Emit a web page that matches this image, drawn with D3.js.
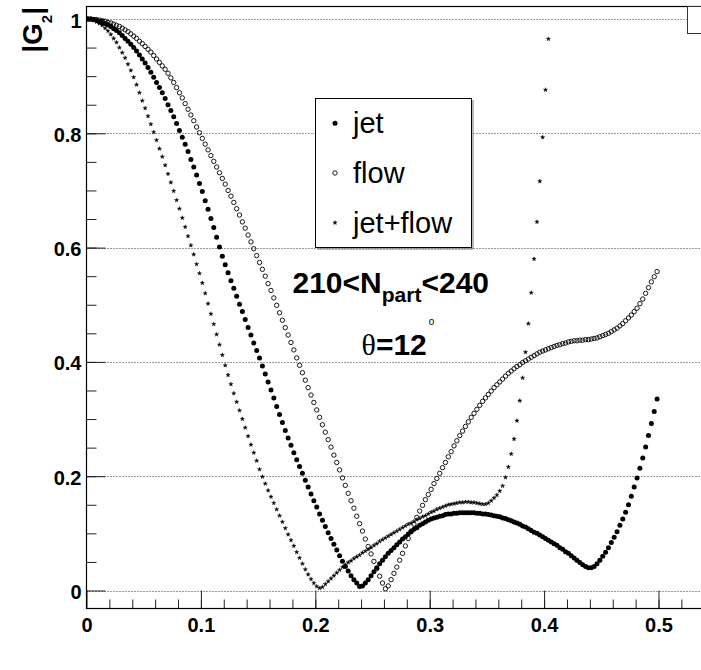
<!DOCTYPE html>
<html lang="en">
  <head>
    <meta charset="UTF-8" />
    <title>|G2| jet / flow</title>
    <style>
      body { margin: 0; background: #fff; }
      svg { display: block; }
      text { font-family: "Liberation Sans", Arial, Helvetica, sans-serif; }
    </style>
  </head>

  <body>
    <svg width="701" height="670"></svg>

    <script src="https://d3js.org/d3.v7.min.js"></script>
    <script>
      (function () {
        "use strict";

        // histograms: 200 bins over [0, 0.5], one value per bin
        var N_BINS = 200;
        var X_MIN = 0;
        var X_MAX = 0.5;

        var jet = [
          1.000, 1.000, 0.999, 0.998, 0.996, 0.994, 0.992, 0.990, 0.987, 0.983,
          0.980, 0.976, 0.971, 0.966, 0.961, 0.956, 0.950, 0.944, 0.937, 0.930,
          0.923, 0.915, 0.907, 0.898, 0.889, 0.880, 0.871, 0.861, 0.850, 0.840,
          0.829, 0.817, 0.805, 0.793, 0.781, 0.768, 0.754, 0.741, 0.727, 0.712,
          0.698, 0.682, 0.667, 0.651, 0.635, 0.618, 0.601, 0.585, 0.570, 0.556,
          0.542, 0.529, 0.515, 0.501, 0.488, 0.474, 0.460, 0.447, 0.433, 0.420,
          0.407, 0.393, 0.379, 0.365, 0.351, 0.337, 0.322, 0.308, 0.294, 0.280,
          0.267, 0.254, 0.241, 0.229, 0.217, 0.205, 0.193, 0.181, 0.169, 0.157,
          0.146, 0.134, 0.123, 0.112, 0.101, 0.091, 0.081, 0.071, 0.061, 0.051,
          0.042, 0.034, 0.026, 0.019, 0.013, 0.007, 0.008, 0.013, 0.019, 0.026,
          0.033, 0.040, 0.047, 0.053, 0.059, 0.065, 0.070, 0.075, 0.080, 0.085,
          0.090, 0.094, 0.099, 0.103, 0.107, 0.110, 0.114, 0.117, 0.120, 0.123,
          0.125, 0.127, 0.128, 0.130, 0.131, 0.133, 0.134, 0.134, 0.135, 0.135,
          0.136, 0.136, 0.136, 0.136, 0.136, 0.136, 0.135, 0.135, 0.134, 0.134,
          0.133, 0.132, 0.131, 0.130, 0.129, 0.127, 0.126, 0.124, 0.122, 0.120,
          0.118, 0.116, 0.113, 0.111, 0.108, 0.105, 0.102, 0.100, 0.097, 0.094,
          0.091, 0.088, 0.085, 0.082, 0.079, 0.075, 0.072, 0.068, 0.065, 0.061,
          0.057, 0.053, 0.049, 0.045, 0.042, 0.040, 0.040, 0.042, 0.047, 0.053,
          0.060, 0.067, 0.075, 0.084, 0.093, 0.103, 0.114, 0.125, 0.137, 0.150,
          0.165, 0.181, 0.197, 0.214, 0.232, 0.251, 0.271, 0.292, 0.313, 0.335
        ];

        var flow = [
          1.000, 1.000, 0.999, 0.999, 0.998, 0.997, 0.996, 0.994, 0.993, 0.991,
          0.989, 0.987, 0.984, 0.981, 0.978, 0.974, 0.970, 0.966, 0.961, 0.957,
          0.952, 0.947, 0.942, 0.936, 0.930, 0.924, 0.918, 0.912, 0.905, 0.897,
          0.889, 0.880, 0.871, 0.862, 0.852, 0.842, 0.832, 0.822, 0.811, 0.801,
          0.791, 0.781, 0.771, 0.761, 0.751, 0.741, 0.731, 0.721, 0.711, 0.700,
          0.690, 0.679, 0.668, 0.657, 0.645, 0.634, 0.622, 0.610, 0.598, 0.586,
          0.574, 0.562, 0.550, 0.537, 0.525, 0.512, 0.499, 0.486, 0.473, 0.460,
          0.447, 0.434, 0.421, 0.407, 0.394, 0.381, 0.368, 0.355, 0.342, 0.329,
          0.316, 0.303, 0.290, 0.277, 0.264, 0.251, 0.237, 0.224, 0.211, 0.197,
          0.184, 0.170, 0.157, 0.144, 0.130, 0.117, 0.104, 0.090, 0.077, 0.064,
          0.051, 0.038, 0.025, 0.013, 0.003, 0.008, 0.019, 0.030, 0.041, 0.053,
          0.065, 0.078, 0.091, 0.104, 0.116, 0.128, 0.139, 0.149, 0.159, 0.168,
          0.177, 0.187, 0.196, 0.205, 0.215, 0.224, 0.234, 0.243, 0.253, 0.262,
          0.271, 0.279, 0.287, 0.295, 0.303, 0.310, 0.317, 0.324, 0.331, 0.337,
          0.343, 0.349, 0.355, 0.360, 0.365, 0.370, 0.375, 0.380, 0.384, 0.388,
          0.392, 0.395, 0.399, 0.402, 0.405, 0.408, 0.411, 0.414, 0.417, 0.419,
          0.421, 0.423, 0.425, 0.427, 0.429, 0.430, 0.432, 0.433, 0.435, 0.436,
          0.437, 0.437, 0.438, 0.438, 0.439, 0.439, 0.440, 0.441, 0.442, 0.444,
          0.446, 0.448, 0.450, 0.453, 0.456, 0.459, 0.463, 0.467, 0.472, 0.477,
          0.482, 0.488, 0.494, 0.502, 0.510, 0.520, 0.530, 0.540, 0.549, 0.558
        ];

        // jet+flow goes off the top of the frame after bin 161
        var jetFlow = [
          1.000, 0.999, 0.998, 0.995, 0.992, 0.989, 0.984, 0.979, 0.973, 0.966,
          0.959, 0.950, 0.941, 0.932, 0.921, 0.910, 0.898, 0.885, 0.871, 0.857,
          0.844, 0.830, 0.816, 0.802, 0.788, 0.773, 0.759, 0.744, 0.729, 0.714,
          0.699, 0.683, 0.668, 0.652, 0.636, 0.620, 0.604, 0.588, 0.571, 0.555,
          0.538, 0.520, 0.502, 0.484, 0.466, 0.448, 0.430, 0.412, 0.394, 0.377,
          0.361, 0.345, 0.330, 0.315, 0.300, 0.285, 0.270, 0.255, 0.241, 0.227,
          0.212, 0.199, 0.187, 0.175, 0.164, 0.153, 0.142, 0.131, 0.120, 0.109,
          0.098, 0.088, 0.078, 0.067, 0.057, 0.047, 0.037, 0.028, 0.020, 0.013,
          0.007, 0.004, 0.006, 0.011, 0.016, 0.021, 0.026, 0.031, 0.036, 0.041,
          0.045, 0.049, 0.052, 0.056, 0.059, 0.062, 0.066, 0.069, 0.072, 0.075,
          0.079, 0.082, 0.086, 0.089, 0.092, 0.095, 0.098, 0.101, 0.104, 0.107,
          0.110, 0.113, 0.116, 0.118, 0.121, 0.124, 0.126, 0.129, 0.131, 0.134,
          0.137, 0.139, 0.142, 0.144, 0.146, 0.148, 0.150, 0.151, 0.152, 0.153,
          0.154, 0.154, 0.155, 0.155, 0.154, 0.154, 0.153, 0.152, 0.151, 0.151,
          0.153, 0.157, 0.162, 0.167, 0.174, 0.183, 0.198, 0.216, 0.239, 0.265,
          0.297, 0.332, 0.372, 0.417, 0.467, 0.521, 0.580, 0.645, 0.716, 0.793,
          0.876, 0.965
        ];

        var xTicks = [0, 0.1, 0.2, 0.3, 0.4, 0.5];
        var xTickLabels = ["0", "0.1", "0.2", "0.3", "0.4", "0.5"];
        var yTicks = [0, 0.2, 0.4, 0.6, 0.8, 1];
        var yTickLabels = ["0", "0.2", "0.4", "0.6", "0.8", "1"];
        var legendLabels = ["jet", "flow", "jet+flow"];

        // frame in pixels (right edge lies past the picture)
        var FRAME = { left: 86.5, right: 716, top: 6.5, bottom: 608.5 };

        var svg = d3.select("svg");
        var binW = (X_MAX - X_MIN) / N_BINS;

        var x = d3.scaleLinear().domain([0, 0.55]).range([FRAME.left, FRAME.left + 0.55 * 1144]);
        var y = d3.scaleLinear().domain([0, 1]).range([590.5, 19]);

        function bins(values) {
          return values.map(function (v, i) {
            return { x: X_MIN + (i + 0.5) * binW, y: v };
          });
        }

        svg.append("rect").attr("width", 701).attr("height", 670).attr("fill", "#fff");

        svg.append("defs").append("clipPath").attr("id", "frame")
          .append("rect")
          .attr("x", FRAME.left).attr("y", FRAME.top)
          .attr("width", FRAME.right - FRAME.left).attr("height", FRAME.bottom - FRAME.top);

        // dotted grid
        svg.append("g").selectAll("line").data(yTicks).enter().append("line")
          .attr("x1", FRAME.left).attr("x2", FRAME.right)
          .attr("y1", function (d) { return Math.round(y(d)) + 0.5; })
          .attr("y2", function (d) { return Math.round(y(d)) + 0.5; })
          .attr("stroke", "#333").attr("stroke-width", 1).attr("stroke-dasharray", "1,2");

        // x axis: ticks point up into the frame
        var gx = svg.append("g").attr("transform", "translate(0," + FRAME.bottom + ")")
          .attr("color", "#222");
        gx.call(d3.axisBottom(x).tickValues(d3.range(0.02, 0.55, 0.02)).tickSizeInner(-9).tickSizeOuter(0).tickFormat(""));
        gx.select(".domain").remove();
        var gx2 = svg.append("g").attr("transform", "translate(0," + FRAME.bottom + ")")
          .attr("color", "#222");
        gx2.call(d3.axisBottom(x).tickValues(xTicks).tickSizeInner(-18).tickSizeOuter(0).tickPadding(9)
          .tickFormat(function (d, i) { return xTickLabels[i]; }));
        gx2.select(".domain").remove();
        gx2.selectAll("text").attr("fill", "#000").attr("font-size", 20).attr("font-weight", "bold")
          .attr("font-family", "'Liberation Sans', Arial, sans-serif");

        // y axis: ticks point right
        var gy = svg.append("g").attr("transform", "translate(" + FRAME.left + ",0)").attr("color", "#222");
        gy.call(d3.axisLeft(y).tickValues(d3.range(0.05, 1.0, 0.05)).tickSizeInner(-10).tickSizeOuter(0).tickFormat(""));
        gy.select(".domain").remove();
        var gy2 = svg.append("g").attr("transform", "translate(" + FRAME.left + ",0)").attr("color", "#222");
        gy2.call(d3.axisLeft(y).tickValues(yTicks).tickSizeInner(-19).tickSizeOuter(0).tickPadding(5)
          .tickFormat(function (d, i) { return yTickLabels[i]; }));
        gy2.select(".domain").remove();
        gy2.selectAll("text").attr("fill", "#000").attr("font-size", 20).attr("font-weight", "bold")
          .attr("dy", "0.4em").attr("font-family", "'Liberation Sans', Arial, sans-serif");

        // markers
        var star = d3.symbol().type(d3.symbolStar).size(5.5);
        var plot = svg.append("g").attr("clip-path", "url(#frame)");

        plot.append("g").selectAll("circle").data(bins(flow)).enter().append("circle")
          .attr("cx", function (d) { return x(d.x); })
          .attr("cy", function (d) { return y(d.y); })
          .attr("r", 2.2).attr("fill", "none").attr("stroke", "#000").attr("stroke-width", 0.9);

        plot.append("g").selectAll("circle").data(bins(jet)).enter().append("circle")
          .attr("cx", function (d) { return x(d.x); })
          .attr("cy", function (d) { return y(d.y); })
          .attr("r", 2.5).attr("fill", "#000");

        plot.append("g").selectAll("path").data(bins(jetFlow)).enter().append("path")
          .attr("d", star)
          .attr("transform", function (d) { return "translate(" + x(d.x) + "," + y(d.y) + ")"; })
          .attr("fill", "#000").attr("stroke", "#000").attr("stroke-width", 0.4);

        // frame
        svg.append("rect")
          .attr("x", FRAME.left).attr("y", FRAME.top)
          .attr("width", FRAME.right - FRAME.left).attr("height", FRAME.bottom - FRAME.top)
          .attr("fill", "none").attr("stroke", "#000").attr("stroke-width", 1.2);

        // clipped stats box at top right
        svg.append("rect").attr("x", 687.5).attr("y", 6.5).attr("width", 40).attr("height", 27)
          .attr("fill", "#fff").attr("stroke", "#333");

        // y title |G2|
        var yt = svg.append("text").attr("transform", "translate(42,7) rotate(-90)")
          .attr("text-anchor", "end").attr("font-size", 28).attr("font-weight", "bold");
        yt.append("tspan").text("|G");
        yt.append("tspan").attr("font-size", 15).attr("dy", 10).text("2");
        yt.append("tspan").attr("dy", -10).text("|");

        // legend
        var leg = svg.append("g");
        leg.append("path").attr("d", "M473,100V249H317").attr("fill", "none").attr("stroke", "#777");
        leg.append("rect").attr("x", 315.5).attr("y", 98.5).attr("width", 156).attr("height", 149)
          .attr("fill", "#fff").attr("stroke", "#000");
        var rowY = [123.3, 173, 222.7];
        leg.append("circle").attr("cx", 335).attr("cy", rowY[0]).attr("r", 2.5).attr("fill", "#000");
        leg.append("circle").attr("cx", 335).attr("cy", rowY[1]).attr("r", 2.2)
          .attr("fill", "none").attr("stroke", "#000").attr("stroke-width", 0.9);
        leg.append("path").attr("d", star).attr("transform", "translate(335," + rowY[2] + ")")
          .attr("fill", "#000").attr("stroke", "#000").attr("stroke-width", 0.4);
        leg.selectAll("text").data(legendLabels).enter().append("text")
          .attr("x", 353).attr("y", function (d, i) { return rowY[i] + 10; })
          .attr("font-size", 29).text(function (d) { return d; });

        // annotations
        var t1 = svg.append("text").attr("x", 292.5).attr("y", 292.5)
          .attr("font-size", 30).attr("font-weight", "bold");
        t1.append("tspan").text("210<N");
        t1.append("tspan").attr("font-size", 21).attr("dy", 9).text("part");
        t1.append("tspan").attr("dy", -9).text("<240");

        var t2 = svg.append("text").attr("x", 361.5).attr("y", 355)
          .attr("font-size", 30).attr("font-weight", "bold");
        t2.append("tspan").attr("font-family", "'Liberation Serif', 'DejaVu Serif', serif")
          .attr("font-weight", "normal").text("θ");
        t2.append("tspan").text("=12");
        t2.append("tspan").attr("font-size", 10).attr("font-weight", "normal")
          .attr("dx", 2).attr("dy", -30).text("o");
      })();
    </script>
  </body>
</html>
